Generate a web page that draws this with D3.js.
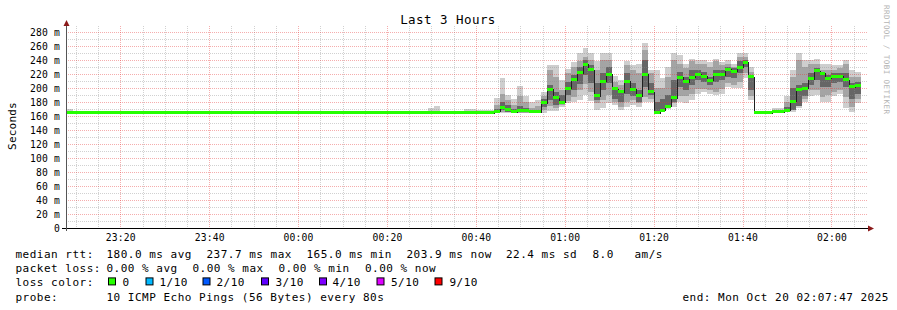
<!DOCTYPE html>
<html>
<head>
<meta charset="utf-8">
<script src="https://cdn.jsdelivr.net/npm/d3@7"></script>
<style>
  body { margin: 0; background: #fff; }
  svg { display: block; }
  text { font-family: "DejaVu Sans Mono", monospace; fill: #000; }
</style>
</head>
<body>
<div id="chart"></div>
<script>
// ---- data ----
const title = "Last 3 Hours";
const yLabel = "Seconds";
const watermark = "RRDTOOL / TOBI OETIKER";
const endTime = new Date(2025, 9, 20, 2, 7, 47);
const firstSlot = new Date(2025, 9, 19, 23, 8, 0);   // rrd steps of 80s start here
const stepSec = 80;
const yTicks = [0, 20, 40, 60, 80, 100, 120, 140, 160, 180, 200, 220, 240, 260, 280];

// median rtt in ms, one value per 80s slot
const median = [
  165,165,165,165,165,165,165,165,165,165,165,165,
  165,165,165,165,165,165,165,165,165,165,165,165,
  165,165,165,165,165,165,165,165,165,165,165,165,
  165,165,165,165,165,165,165,165,165,165,165,165,
  165,165,165,165,165,165,165,165,165,165,165,165,
  165,165,165,165,165,165,165,165,165,165,165,165,
  167,172,169,166,168,168,166,166,179,198,186,180,200,212,222,234,226,189,210,220,
  199,195,210,198,189,220,195,165,168,174,186,215,209,215,220,217,211,219,219,227,
  224,230,237,216,165,165,165,166,166,168,181,198,200,213,225,221,214,217,217,212,
  202,204
];

// smoke: outer band (all pings), middle band, core band around the median
const outerLo = [
  165,165,165,165,165,165,165,165,165,165,165,165,
  165,165,165,165,165,165,165,165,165,165,165,165,
  165,165,165,165,165,165,165,165,165,165,165,165,
  165,165,165,165,165,165,165,165,165,165,165,165,
  165,165,165,165,165,165,165,165,165,165,165,165,
  165,165,165,165,165,165,165,165,165,165,165,165,
  164,165,165,164,164,164,164,164,164,167,167,173,178,180,183,190,181,169,171,178,
  176,169,173,176,173,180,180,164,166,170,173,180,178,183,192,195,192,190,192,202,
  200,200,214,183,165,165,165,165,165,166,166,171,180,188,190,180,180,188,192,171,
  166,178
];
const outerHi = [
  170,165,165,165,165,165,165,165,165,165,165,165,
  165,165,165,165,165,165,165,165,165,165,165,165,
  165,165,165,165,165,165,165,165,165,165,165,165,
  165,165,165,165,165,165,165,165,165,165,165,165,
  165,165,165,165,165,165,165,165,165,165,165,165,
  165,172,174,165,165,165,165,170,170,168,168,168,
  186,214,190,184,203,188,180,183,195,233,233,211,227,237,250,257,250,238,250,250,
  217,211,238,233,235,264,226,226,214,230,250,247,235,242,240,240,237,242,237,240,
  235,250,250,230,165,165,165,171,171,188,226,250,240,240,242,235,235,233,233,240,
  226,223
];
const midLo = [
  165,165,165,165,165,165,165,165,165,165,165,165,
  165,165,165,165,165,165,165,165,165,165,165,165,
  165,165,165,165,165,165,165,165,165,165,165,165,
  165,165,165,165,165,165,165,165,165,165,165,165,
  165,165,165,165,165,165,165,165,165,165,165,165,
  165,165,165,165,165,165,165,165,165,165,165,165,
  165,166,166,165,165,165,165,165,168,174,172,176,182,187,197,206,195,178,183,190,
  180,173,180,183,178,187,185,165,168,172,178,188,188,192,199,199,197,195,199,207,
  204,209,221,188,165,165,165,165,165,166,169,178,185,197,197,187,190,195,197,187,
  173,185
];
const midHi = [
  165,165,165,165,165,165,165,165,165,165,165,165,
  165,165,165,165,165,165,165,165,165,165,165,165,
  165,165,165,165,165,165,165,165,165,165,165,165,
  165,165,165,165,165,165,165,165,165,165,165,165,
  165,165,165,165,165,165,165,165,165,165,165,165,
  165,165,165,165,165,165,165,165,165,165,165,165,
  176,192,183,176,188,180,172,175,188,226,216,197,221,230,238,245,240,226,240,240,
  209,204,233,226,221,254,221,200,200,216,240,235,228,238,235,235,230,238,233,235,
  230,245,245,223,165,165,165,168,168,180,216,240,230,235,235,226,226,226,228,235,
  216,216
];
const coreLo = [
  165,165,165,165,165,165,165,165,165,165,165,165,
  165,165,165,165,165,165,165,165,165,165,165,165,
  165,165,165,165,165,165,165,165,165,165,165,165,
  165,165,165,165,165,165,165,165,165,165,165,165,
  165,165,165,165,165,165,165,165,165,165,165,165,
  165,165,165,165,165,165,165,165,165,165,165,165,
  166,168,166,165,166,166,165,165,173,183,176,177,190,197,206,218,207,183,197,207,
  185,180,192,188,180,202,190,165,168,172,180,202,197,204,211,209,204,209,211,216,
  214,221,230,197,165,165,165,165,165,166,169,175,188,204,211,202,202,207,209,202,
  185,192
];
const coreHi = [
  165,165,165,165,165,165,165,165,165,165,165,165,
  165,165,165,165,165,165,165,165,165,165,165,165,
  165,165,165,165,165,165,165,165,165,165,165,165,
  165,165,165,165,165,165,165,165,165,165,165,165,
  165,165,165,165,165,165,165,165,165,165,165,165,
  165,165,165,165,165,165,165,165,165,165,165,165,
  170,180,176,170,175,172,168,169,184,205,195,190,209,219,230,240,233,207,221,230,
  202,197,221,207,197,240,207,180,185,190,211,223,216,226,226,223,216,226,226,230,
  228,238,240,218,165,165,165,167,167,173,200,205,207,221,228,221,218,221,221,221,
  207,209
];

// legend
const rttLabel = "median rtt:";
const rttStats = ["180.0 ms avg", "237.7 ms max", "165.0 ms min", "203.9 ms now", "22.4 ms sd", "8.0", "am/s"];
const lossLabel = "packet loss:";
const lossStats = ["0.00 % avg", "0.00 % max", "0.00 % min", "0.00 % now"];
const colorLabel = "loss color:";
const lossNames = ["0", "1/10", "2/10", "3/10", "4/10", "5/10", "9/10"];
const lossColors = ["#26ff00", "#00b8ff", "#0059ff", "#5e00ff", "#7e00ff", "#dd00ff", "#ff0000"];
const probeLabel = "probe:";
const probeText = "10 ICMP Echo Pings (56 Bytes) every 80s";
const endText = "end: Mon Oct 20 02:07:47 2025";

// ---- layout ----
const width = 897, height = 310;
const plot = { left: 66, right: 866, gridRight: 868, top: 26, bottom: 228 };
const rttX = [106.5, 206.5, 306.5, 406.5, 506, 592.5, 634.5];
const lossX = [106.5, 192.5, 278.5, 365];
const boxX = [108, 145.5, 202.5, 261, 319, 376.5, 434.5];
const boxTextX = [122.5, 159.5, 216.5, 275.5, 332.5, 391, 449.5];
const lineY = [258, 272.3, 286.4, 300.5];

const startTime = new Date(endTime.getTime() - 3 * 3600 * 1000);
const slotTime = (i) => new Date(firstSlot.getTime() + i * stepSec * 1000);

const svg = d3.select("#chart").append("svg")
  .attr("width", width).attr("height", height);

svg.append("rect").attr("width", width).attr("height", height).attr("fill", "#fff");

const x = d3.scaleTime().domain([startTime, endTime]).range([plot.left, plot.right]);
const y = d3.scaleLinear().domain([0, 280]).range([plot.bottom, 32]);
const px = (v) => Math.round(v) + 0.5;

// ---- smoke ----
const slots = median.map((m, i) => ({
  i, m,
  bands: [[outerLo[i], outerHi[i]], [midLo[i], midHi[i]], [coreLo[i], coreHi[i]]]
}));
const smokeColors = ["#cecece", "#a4a4a4", "#666666"];

const smoke = svg.append("g").attr("shape-rendering", "crispEdges");
smokeColors.forEach((c, b) => {
  smoke.append("g").selectAll("rect")
    .data(slots.filter(d => d.bands[b][1] > d.bands[b][0]))
    .join("rect")
    .attr("x", d => x(slotTime(d.i)))
    .attr("width", d => x(slotTime(d.i + 1)) - x(slotTime(d.i)))
    .attr("y", d => y(d.bands[b][1]))
    .attr("height", d => y(d.bands[b][0]) - y(d.bands[b][1]))
    .attr("fill", c);
});

// ---- grid ----
const minuteTicks = d3.timeMinute.every(5).range(startTime, endTime);
const major = minuteTicks.filter(t => t.getMinutes() % 20 === 0);
const minor = minuteTicks.filter(t => t.getMinutes() % 20 !== 0);
const minorColor = "rgba(140,140,140,0.4)";
const majorColor = "rgba(230,50,50,0.4)";

function vLines(ticks, color) {
  svg.append("g").attr("shape-rendering", "crispEdges")
    .selectAll("line").data(ticks).join("line")
    .attr("x1", d => px(x(d))).attr("x2", d => px(x(d)))
    .attr("y1", plot.top).attr("y2", plot.bottom)
    .attr("stroke", color).attr("stroke-dasharray", "1,1");
}
function hLines(vals, color) {
  svg.append("g").attr("shape-rendering", "crispEdges")
    .selectAll("line").data(vals).join("line")
    .attr("x1", plot.left).attr("x2", plot.gridRight)
    .attr("y1", d => px(y(d))).attr("y2", d => px(y(d)))
    .attr("stroke", color).attr("stroke-dasharray", "1,1");
}
vLines(minor, minorColor);
hLines(yTicks.slice(0, -1).map(v => v + 10), minorColor);
vLines(major, majorColor);
hLines(yTicks.filter(v => v > 0), majorColor);

// ---- median: dark step line + green loss-coloured bars ----
const stepPts = median.map((m, i) => [slotTime(i), m]).concat([[slotTime(median.length), median[median.length - 1]]]);
svg.append("path")
  .attr("d", d3.line().x(d => Math.round(x(d[0]))).y(d => px(y(d[1]))).curve(d3.curveStepAfter)(stepPts))
  .attr("fill", "none").attr("stroke", "#202020").attr("stroke-width", 1)
  .attr("shape-rendering", "crispEdges");

svg.append("g").attr("shape-rendering", "crispEdges").selectAll("rect")
  .data(slots).join("rect")
  .attr("x", d => Math.max(plot.left + 1, x(slotTime(d.i))))
  .attr("width", d => x(slotTime(d.i + 1)) - Math.max(plot.left + 1, x(slotTime(d.i))))
  .attr("y", d => y(d.m) - 1.5)
  .attr("height", 3)
  .attr("fill", lossColors[0]);

// ---- axes ----
const axes = svg.append("g").attr("shape-rendering", "crispEdges");
axes.append("line").attr("x1", 62).attr("x2", plot.gridRight + 1)
  .attr("y1", plot.bottom + 0.5).attr("y2", plot.bottom + 0.5).attr("stroke", "#000");
axes.append("line").attr("x1", plot.left + 0.5).attr("x2", plot.left + 0.5)
  .attr("y1", plot.bottom + 3).attr("y2", 24).attr("stroke", "#555");
svg.append("path").attr("d", `M${plot.left + 0.5},20 L${plot.left - 2.5},26 L${plot.left + 3.5},26 Z`).attr("fill", "#8b1a1a");
svg.append("path").attr("d", `M${plot.gridRight + 6},${plot.bottom + 0.5} L${plot.gridRight},${plot.bottom - 2.5} L${plot.gridRight},${plot.bottom + 3.5} Z`).attr("fill", "#8b1a1a");

const yAxis = d3.axisLeft(y).tickValues(yTicks).tickSize(0).tickPadding(0)
  .tickFormat(v => v === 0 ? "0" : `${v} m`);
svg.append("g").attr("transform", `translate(${plot.left - 6},0)`).call(yAxis)
  .call(g => g.select(".domain").remove())
  .call(g => g.selectAll("text").attr("font-family", "DejaVu Sans Mono, monospace")
    .attr("font-size", 9.7).attr("letter-spacing", 0.15).attr("fill", "#000")
    .attr("dy", "0.35em"));

const xAxis = d3.axisBottom(x).tickValues(major).tickSize(0).tickPadding(0)
  .tickFormat(d3.timeFormat("%H:%M"));
svg.append("g").attr("transform", `translate(0,${plot.bottom + 6})`).call(xAxis)
  .call(g => g.select(".domain").remove())
  .call(g => g.selectAll("text").attr("font-family", "DejaVu Sans Mono, monospace")
    .attr("font-size", 9.7).attr("letter-spacing", 0.15).attr("fill", "#000")
    .attr("dy", "0.71em"));

// ---- texts ----
svg.append("text").attr("x", 448).attr("y", 24).attr("text-anchor", "middle")
  .attr("font-size", 12.5).attr("letter-spacing", 0.45).text(title);

svg.append("text").attr("transform", "translate(16,126) rotate(-90)")
  .attr("text-anchor", "middle").attr("font-size", 11).attr("letter-spacing", 0.2).text(yLabel);

svg.append("text").attr("transform", "translate(884,5) rotate(90)")
  .attr("font-size", 7.6).attr("letter-spacing", 0.4).style("fill", "#b4b4b4").text(watermark);

const legend = svg.append("g").attr("font-size", 11).attr("letter-spacing", 0.5);
const put = (tx, ty, s, anchor) => legend.append("text").attr("x", tx).attr("y", ty)
  .attr("text-anchor", anchor || "start").text(s);

put(15.5, lineY[0], rttLabel);
rttStats.forEach((s, k) => put(rttX[k], lineY[0], s));
put(15.5, lineY[1], lossLabel);
lossStats.forEach((s, k) => put(lossX[k], lineY[1], s));
put(15.5, lineY[2], colorLabel);
lossNames.forEach((s, k) => {
  legend.append("rect").attr("x", boxX[k] + 0.5).attr("y", lineY[2] - 8.5)
    .attr("width", 7).attr("height", 7).attr("fill", lossColors[k])
    .attr("stroke", "#000").attr("stroke-width", 1);
  put(boxTextX[k], lineY[2], s);
});
put(15.5, lineY[3], probeLabel);
put(106.5, lineY[3], probeText);
put(889, lineY[3], endText, "end");
</script>
</body>
</html>
